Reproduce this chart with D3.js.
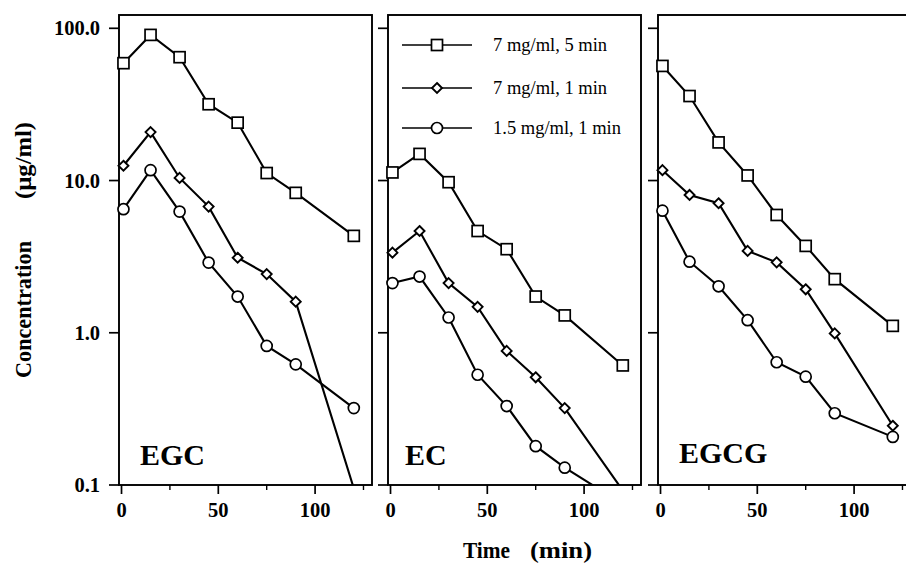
<!DOCTYPE html>
<html><head><meta charset="utf-8">
<script src="https://cdn.jsdelivr.net/npm/d3@7"></script>
<style>body{margin:0;background:#fff}svg{display:block}</style>
</head><body>
<script>
const times = [1, 15, 30, 45, 60, 75, 90, 120];
const panels = ["EGC", "EC", "EGCG"];
const seriesNames = ["7 mg/ml, 5 min", "7 mg/ml, 1 min", "1.5 mg/ml, 1 min"];
const EGC_sq = [59, 90.5, 64.6, 31.7, 24.0, 11.2, 8.3, 4.33];
const EGC_di = [12.5, 20.8, 10.4, 6.74, 3.11, 2.43, 1.60, 0.095];
const EGC_ci = [6.48, 11.7, 6.25, 2.89, 1.73, 0.82, 0.62, 0.32];
const EC_sq = [11.3, 14.96, 9.75, 4.66, 3.54, 1.73, 1.30, 0.61];
const EC_di = [3.36, 4.66, 2.12, 1.48, 0.76, 0.51, 0.32, 0.092];
const EC_ci = [2.12, 2.34, 1.26, 0.53, 0.33, 0.18, 0.13, 0.075];
const EGCG_sq = [56.6, 35.9, 17.8, 10.8, 5.94, 3.72, 2.25, 1.11];
const EGCG_di = [11.7, 8.04, 7.09, 3.45, 2.90, 1.93, 0.99, 0.245];
const EGCG_ci = [6.34, 2.93, 2.02, 1.21, 0.64, 0.515, 0.296, 0.207];
const yTicks = [0.1, 1, 10, 100];
const yTickLabels = ["0.1", "1.0", "10.0", "100.0"];
const xMajor = [0, 50, 100];
const xMinor = [25, 75, 125];

const panelData = [
  [EGC_sq, EGC_di, EGC_ci],
  [EC_sq, EC_di, EC_ci],
  [EGCG_sq, EGCG_di, EGCG_ci]
];
const shapes = ["square", "diamond", "circle"];

const W = 906, H = 564;
const svg = d3.select("body").append("svg").attr("width", W).attr("height", H);
const serif = "'Liberation Serif','Times New Roman',serif";

const plotTop = 15, plotBottom = 485, pw = 253;
const lefts = [119, 388, 658];
const y = d3.scaleLog().domain([0.1, 100]).range([plotBottom, 28.3]);

function marker(g, shape, cx, cy) {
  if (shape === "square") {
    g.append("rect").attr("x", cx - 5.5).attr("y", cy - 5.5).attr("width", 11).attr("height", 11)
      .attr("fill", "#fff").attr("stroke", "#000").attr("stroke-width", 1.7);
  } else if (shape === "diamond") {
    g.append("path").attr("d", `M${cx},${cy-5}L${cx+5},${cy}L${cx},${cy+5}L${cx-5},${cy}Z`)
      .attr("fill", "#fff").attr("stroke", "#000").attr("stroke-width", 1.9);
  } else {
    g.append("circle").attr("cx", cx).attr("cy", cy).attr("r", 5.5)
      .attr("fill", "#fff").attr("stroke", "#000").attr("stroke-width", 1.7);
  }
}

panels.forEach((name, pi) => {
  const L = lefts[pi];
  const x = d3.scaleLinear().domain([-1.3, 129.4]).range([L, L + pw]);
  const g = svg.append("g");
  const cid = "clip" + pi;
  svg.append("clipPath").attr("id", cid).append("rect")
    .attr("x", L).attr("y", plotTop).attr("width", pw).attr("height", plotBottom - plotTop);

  g.append("rect").attr("x", L).attr("y", plotTop).attr("width", pw).attr("height", plotBottom - plotTop)
    .attr("fill", "none").attr("stroke", "#000").attr("stroke-width", 1.9);

  yTicks.forEach((t, i) => {
    g.append("line").attr("x1", L - 10).attr("x2", L).attr("y1", y(t)).attr("y2", y(t))
      .attr("stroke", "#000").attr("stroke-width", 1.7);
    if (pi === 0) {
      g.append("text").attr("x", L - 19).attr("y", y(t)).attr("dy", "0.35em")
        .attr("text-anchor", "end").attr("font-family", serif).attr("font-weight", "bold")
        .attr("font-size", 20.5).text(yTickLabels[i]);
    }
  });
  xMajor.forEach(t => {
    g.append("line").attr("x1", x(t)).attr("x2", x(t)).attr("y1", plotBottom).attr("y2", plotBottom + 9)
      .attr("stroke", "#000").attr("stroke-width", 1.7);
    g.append("text").attr("x", x(t)).attr("y", plotBottom + 32).attr("text-anchor", "middle")
      .attr("font-family", serif).attr("font-weight", "bold").attr("font-size", 20.5).text(t);
  });
  xMinor.forEach(t => {
    g.append("line").attr("x1", x(t)).attr("x2", x(t)).attr("y1", plotBottom).attr("y2", plotBottom + 5)
      .attr("stroke", "#000").attr("stroke-width", 1.4);
  });

  const line = d3.line().x((d, i) => x(times[i])).y(d => y(d));
  const cg = g.append("g").attr("clip-path", `url(#${cid})`);
  panelData[pi].forEach((vals) => {
    cg.append("path").attr("d", line(vals)).attr("fill", "none")
      .attr("stroke", "#000").attr("stroke-width", 2.1);
  });
  const mg = g.append("g");
  panelData[pi].forEach((vals, si) => {
    vals.forEach((v, i) => {
      if (v >= 0.1) marker(mg, shapes[si], x(times[i]), y(v));
    });
  });

  g.append("text").attr("x", L + [21, 17, 21][pi]).attr("y", [465, 465, 463][pi])
    .attr("font-family", serif).attr("font-weight", "bold").attr("font-size", 30).text(name);

  if (pi === 1) {
    const rows = [45, 88, 128];
    seriesNames.forEach((s, si) => {
      g.append("line").attr("x1", 402).attr("x2", 472).attr("y1", rows[si]).attr("y2", rows[si])
        .attr("stroke", "#000").attr("stroke-width", 1.6);
      marker(g, shapes[si], 437, rows[si]);
      g.append("text").attr("x", 493).attr("y", rows[si]).attr("dy", "0.35em")
        .attr("font-family", serif).attr("font-size", 18.5).text(s);
    });
  }
});

svg.append("text").attr("transform", "translate(31,378) rotate(-90)")
  .attr("font-family", serif).attr("font-weight", "bold").attr("font-size", 23)
  .attr("textLength", 137).attr("lengthAdjust", "spacingAndGlyphs").text("Concentration");
svg.append("text").attr("transform", "translate(31,199) rotate(-90)")
  .attr("font-family", serif).attr("font-weight", "bold").attr("font-size", 23)
  .attr("textLength", 77).attr("lengthAdjust", "spacingAndGlyphs").text("(\u00b5g/ml)");
svg.append("text").attr("x", 463).attr("y", 558)
  .attr("font-family", serif).attr("font-weight", "bold").attr("font-size", 23)
  .attr("textLength", 47).attr("lengthAdjust", "spacingAndGlyphs").text("Time");
svg.append("text").attr("x", 530).attr("y", 558)
  .attr("font-family", serif).attr("font-weight", "bold").attr("font-size", 23)
  .attr("textLength", 62).attr("lengthAdjust", "spacingAndGlyphs").text("(min)");
</script>
</body></html>
